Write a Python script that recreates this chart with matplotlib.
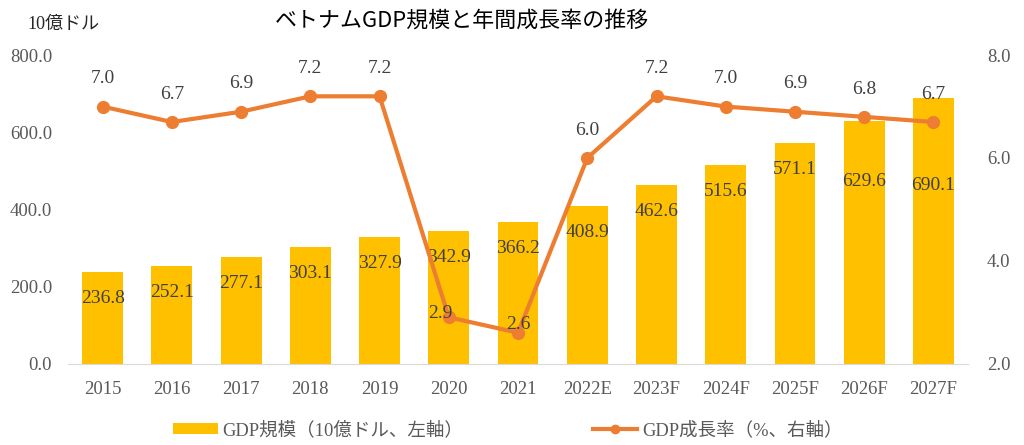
import matplotlib
matplotlib.use("Agg")
import matplotlib.pyplot as plt
import numpy as np

plt.rcParams['font.family'] = ['Liberation Serif', 'Noto Sans CJK JP']

years = ['2015', '2016', '2017', '2018', '2019', '2020', '2021',
         '2022E', '2023F', '2024F', '2025F', '2026F', '2027F']
gdp = [236.8, 252.1, 277.1, 303.1, 327.9, 342.9, 366.2,
       408.9, 462.6, 515.6, 571.1, 629.6, 690.1]
growth = [7.0, 6.7, 6.9, 7.2, 7.2, 2.9, 2.6, 6.0, 7.2, 7.0, 6.9, 6.8, 6.7]

bar_color = '#FFC000'
line_color = '#ED7D31'
label_color = '#404040'
tick_color = '#595959'

# label offsets in points (hand placed like in the original)
bar_lab_dy = [-19] * 11 + [-44, -63]
line_lab_off = [(0, 20)] * 5 + [(-6, 3), (0, 6)] + [(0, 20)] * 6

fig = plt.figure(figsize=(10.24, 4.45), dpi=100)
ax = fig.add_axes([0.0664, 0.183, 0.879, 0.693])
ax2 = ax.twinx()

x = np.arange(len(years))
ax.bar(x, gdp, width=0.59, color=bar_color, zorder=2, label='GDP規模（10億ドル、左軸）')
ax.set_ylim(0, 800)
ax.set_xlim(-0.5, len(years) - 0.5)
ax.set_yticks(np.arange(0, 801, 200))
ax.set_yticklabels([f'{v:.1f}' for v in np.arange(0, 801, 200)])
ax.set_xticks(x)
ax.set_xticklabels(years)

for i, v in enumerate(gdp):
    ax.annotate(f'{v:.1f}', (x[i], v), xytext=(0, bar_lab_dy[i]), textcoords='offset points',
                ha='center', va='center', fontsize=14, color=label_color, zorder=5)

ax2.plot(x, growth, color=line_color, lw=3, marker='o', ms=8.5, zorder=3,
         label='GDP成長率（%、右軸）')
ax2.set_ylim(2, 8)
ax2.set_yticks(np.arange(2, 8.1, 2))
ax2.set_yticklabels([f'{v:.1f}' for v in np.arange(2, 8.1, 2)])
for i, v in enumerate(growth):
    ax2.annotate(f'{v:.1f}', (x[i], v), xytext=line_lab_off[i], textcoords='offset points',
                 ha='center', va='center', fontsize=14, color=label_color, zorder=6)

ax.set_zorder(ax2.get_zorder() - 1)
ax.patch.set_visible(False)

for a in (ax, ax2):
    for s in a.spines.values():
        s.set_visible(False)
    a.tick_params(length=0, labelsize=13.5, colors=tick_color)
ax.spines['bottom'].set_visible(True)
ax.spines['bottom'].set_color('#D9D9D9')
ax.tick_params(axis='x', pad=12.5)
ax.tick_params(axis='y', pad=11.5)
ax2.tick_params(axis='y', pad=13.5)

fig.text(0.451, 0.953, 'ベトナムGDP規模と年間成長率の推移', ha='center', va='center',
         fontsize=15.8, color='black', family=['Noto Sans CJK JP'])
fig.text(0.027, 0.944, '10億ドル', ha='left', va='center', fontsize=13, color='#262626')

h1, l1 = ax.get_legend_handles_labels()
h2, l2 = ax2.get_legend_handles_labels()
leg = fig.legend(h1 + h2, l1 + l2, loc='center', bbox_to_anchor=(0.496, 0.034), ncol=2,
                 frameon=False, fontsize=13.3, columnspacing=7.0, handlelength=2.4,
                 handleheight=0.55, handletextpad=0.27, labelcolor=tick_color)
leg.legend_handles[1].set_markersize(6)

fig.savefig('out.png', dpi=100)
